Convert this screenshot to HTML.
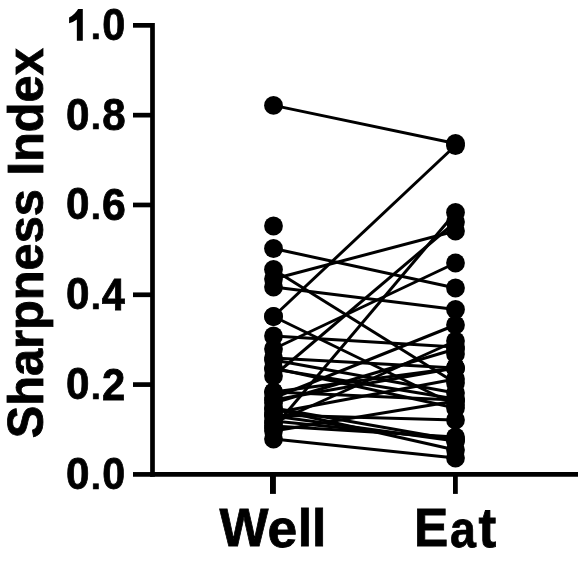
<!DOCTYPE html>
<html><head><meta charset="utf-8"><style>
html,body{margin:0;padding:0;background:#fff;}
body{width:579px;height:567px;overflow:hidden;}
svg{display:block;}
.g{width:579px;height:567px;filter:grayscale(1);}
text{font-family:"Liberation Sans",sans-serif;font-weight:bold;fill:#000;stroke:#000;stroke-width:0.8px;}
</style></head><body>
<div class="g"><svg width="579" height="567" viewBox="0 0 579 567">
<g stroke="#000" stroke-width="4.7" stroke-linecap="butt" fill="none">
<line x1="152.5" y1="23" x2="152.5" y2="476.8"/>
<line x1="150.15" y1="474.4" x2="578" y2="474.4"/>
<line x1="133" y1="474.4" x2="152.5" y2="474.4"/><line x1="133" y1="384.59" x2="152.5" y2="384.59"/><line x1="133" y1="294.78" x2="152.5" y2="294.78"/><line x1="133" y1="204.97" x2="152.5" y2="204.97"/><line x1="133" y1="115.16" x2="152.5" y2="115.16"/><line x1="133" y1="25.35" x2="152.5" y2="25.35"/>
<line x1="272.95" y1="474" x2="272.95" y2="493.9" stroke-width="5.9"/>
<line x1="455.4" y1="474" x2="455.4" y2="493.9" stroke-width="4.8"/>
</g>
<g><text transform="translate(65.91,488.92) scale(0.9393,1.0054)" font-size="45">0</text><text transform="translate(90.86,488.51) scale(0.8140,0.7600)" font-size="45">.</text><text transform="translate(102.14,488.92) scale(0.9169,1.0054)" font-size="45">0</text><text transform="translate(65.91,399.11) scale(0.9393,1.0054)" font-size="45">0</text><text transform="translate(90.86,398.7) scale(0.8140,0.7600)" font-size="45">.</text><text transform="translate(101.95,399.52) scale(0.9289,0.9930)" font-size="45">2</text><text transform="translate(65.91,309.3) scale(0.9393,1.0054)" font-size="45">0</text><text transform="translate(90.86,308.89) scale(0.8140,0.7600)" font-size="45">.</text><text transform="translate(101.83,309.5) scale(0.9222,1.0047)" font-size="45">4</text><text transform="translate(65.91,219.49) scale(0.9393,1.0054)" font-size="45">0</text><text transform="translate(90.86,219.08) scale(0.8140,0.7600)" font-size="45">.</text><text transform="translate(102.11,219.79) scale(0.9511,1.0023)" font-size="45">6</text><text transform="translate(65.91,129.68) scale(0.9393,1.0054)" font-size="45">0</text><text transform="translate(90.86,129.27) scale(0.8140,0.7600)" font-size="45">.</text><text transform="translate(102.17,129.69) scale(0.9348,0.9992)" font-size="45">8</text><text transform="translate(90.86,39.46) scale(0.8140,0.7600)" font-size="45">.</text><text transform="translate(102.33,40.32) scale(0.9213,1.0054)" font-size="45">0</text></g>
<path d="M82.8,40.8 L76.85,40.8 L76.85,19.6 Q73.4,22.3 69.1,23.3 L69.1,17.4 Q72.2,16.2 74.6,13.6 Q76.9,11.3 78.1,9.1 L82.8,9.1 Z"/>
<g><text transform="translate(219.54,546.42) scale(0.9794,1.0134)" font-size="53">W</text><text transform="translate(267.56,547.04) scale(1.0075,0.9782)" font-size="53">e</text><text transform="translate(297.84,546.44) scale(0.9723,0.9656)" font-size="53">l</text><text transform="translate(311.94,546.44) scale(0.9723,0.9656)" font-size="53">l</text><text transform="translate(414.02,546.42) scale(0.9689,1.0174)" font-size="53">E</text><text transform="translate(450.01,547.04) scale(0.8790,0.9782)" font-size="53">a</text><text transform="translate(478.55,546.78) scale(1.0044,1.0537)" font-size="53">t</text></g>
<text transform="translate(42.6,243.3) rotate(-90) scale(0.995,1.02)" font-size="49" text-anchor="middle">Sharpness Index</text>
<g stroke="#000" stroke-width="3.0" fill="none">
<line x1="273.5" y1="105.4" x2="455.5" y2="143.5"/>
<line x1="273.5" y1="316.5" x2="455.5" y2="145.5"/>
<line x1="273.5" y1="248.5" x2="455.5" y2="288"/>
<line x1="273.5" y1="269.5" x2="455.5" y2="383"/>
<line x1="273.5" y1="279" x2="455.5" y2="231"/>
<line x1="273.5" y1="287" x2="455.5" y2="309.5"/>
<line x1="273.5" y1="376" x2="455.5" y2="222"/>
<line x1="273.5" y1="428" x2="455.5" y2="212.5"/>
<line x1="273.5" y1="349" x2="455.5" y2="263"/>
<line x1="273.5" y1="336" x2="455.5" y2="347"/>
<line x1="273.5" y1="316.5" x2="455.5" y2="405"/>
<line x1="273.5" y1="398" x2="455.5" y2="325"/>
<line x1="273.5" y1="413" x2="455.5" y2="379"/>
<line x1="273.5" y1="368" x2="455.5" y2="408"/>
<line x1="273.5" y1="408" x2="455.5" y2="440"/>
<line x1="273.5" y1="431" x2="455.5" y2="401"/>
<line x1="273.5" y1="439" x2="455.5" y2="458"/>
<line x1="273.5" y1="416" x2="455.5" y2="441"/>
<line x1="273.5" y1="409" x2="455.5" y2="450"/>
<line x1="273.5" y1="421" x2="455.5" y2="439"/>
<line x1="273.5" y1="415" x2="455.5" y2="420"/>
<line x1="273.5" y1="426" x2="455.5" y2="437"/>
<line x1="273.5" y1="403" x2="455.5" y2="349"/>
<line x1="273.5" y1="392" x2="455.5" y2="368"/>
<line x1="273.5" y1="400" x2="455.5" y2="368"/>
<line x1="273.5" y1="360" x2="455.5" y2="393"/>
<line x1="273.5" y1="358" x2="455.5" y2="368"/>
<line x1="273.5" y1="392" x2="455.5" y2="400"/>
<line x1="273.5" y1="423" x2="455.5" y2="341"/>
<line x1="273.5" y1="369" x2="455.5" y2="399"/>
</g>
<g fill="#000">
<circle cx="273.5" cy="105.4" r="9.4"/>
<circle cx="455.5" cy="143.5" r="9.4"/>
<circle cx="273.5" cy="316.5" r="9.4"/>
<circle cx="455.5" cy="145.5" r="9.4"/>
<circle cx="273.5" cy="248.5" r="9.4"/>
<circle cx="455.5" cy="288" r="9.4"/>
<circle cx="273.5" cy="269.5" r="9.4"/>
<circle cx="455.5" cy="383" r="9.4"/>
<circle cx="273.5" cy="279" r="9.4"/>
<circle cx="455.5" cy="231" r="9.4"/>
<circle cx="273.5" cy="287" r="9.4"/>
<circle cx="455.5" cy="309.5" r="9.4"/>
<circle cx="273.5" cy="376" r="9.4"/>
<circle cx="455.5" cy="222" r="9.4"/>
<circle cx="273.5" cy="428" r="9.4"/>
<circle cx="455.5" cy="212.5" r="9.4"/>
<circle cx="273.5" cy="349" r="9.4"/>
<circle cx="455.5" cy="263" r="9.4"/>
<circle cx="273.5" cy="336" r="9.4"/>
<circle cx="455.5" cy="347" r="9.4"/>
<circle cx="273.5" cy="316.5" r="9.4"/>
<circle cx="455.5" cy="405" r="9.4"/>
<circle cx="273.5" cy="398" r="9.4"/>
<circle cx="455.5" cy="325" r="9.4"/>
<circle cx="273.5" cy="413" r="9.4"/>
<circle cx="455.5" cy="379" r="9.4"/>
<circle cx="273.5" cy="368" r="9.4"/>
<circle cx="455.5" cy="408" r="9.4"/>
<circle cx="273.5" cy="408" r="9.4"/>
<circle cx="455.5" cy="440" r="9.4"/>
<circle cx="273.5" cy="431" r="9.4"/>
<circle cx="455.5" cy="401" r="9.4"/>
<circle cx="273.5" cy="439" r="9.4"/>
<circle cx="455.5" cy="458" r="9.4"/>
<circle cx="273.5" cy="416" r="9.4"/>
<circle cx="455.5" cy="441" r="9.4"/>
<circle cx="273.5" cy="409" r="9.4"/>
<circle cx="455.5" cy="450" r="9.4"/>
<circle cx="273.5" cy="421" r="9.4"/>
<circle cx="455.5" cy="439" r="9.4"/>
<circle cx="273.5" cy="415" r="9.4"/>
<circle cx="455.5" cy="420" r="9.4"/>
<circle cx="273.5" cy="426" r="9.4"/>
<circle cx="455.5" cy="437" r="9.4"/>
<circle cx="273.5" cy="403" r="9.4"/>
<circle cx="455.5" cy="349" r="9.4"/>
<circle cx="273.5" cy="392" r="9.4"/>
<circle cx="455.5" cy="368" r="9.4"/>
<circle cx="273.5" cy="400" r="9.4"/>
<circle cx="455.5" cy="368" r="9.4"/>
<circle cx="273.5" cy="360" r="9.4"/>
<circle cx="455.5" cy="393" r="9.4"/>
<circle cx="273.5" cy="358" r="9.4"/>
<circle cx="455.5" cy="368" r="9.4"/>
<circle cx="273.5" cy="392" r="9.4"/>
<circle cx="455.5" cy="400" r="9.4"/>
<circle cx="273.5" cy="423" r="9.4"/>
<circle cx="455.5" cy="341" r="9.4"/>
<circle cx="273.5" cy="369" r="9.4"/>
<circle cx="455.5" cy="399" r="9.4"/>
<circle cx="273.5" cy="226" r="9.4"/>
<circle cx="455.5" cy="354" r="9.4"/>
</g>
</svg></div>
</body></html>
